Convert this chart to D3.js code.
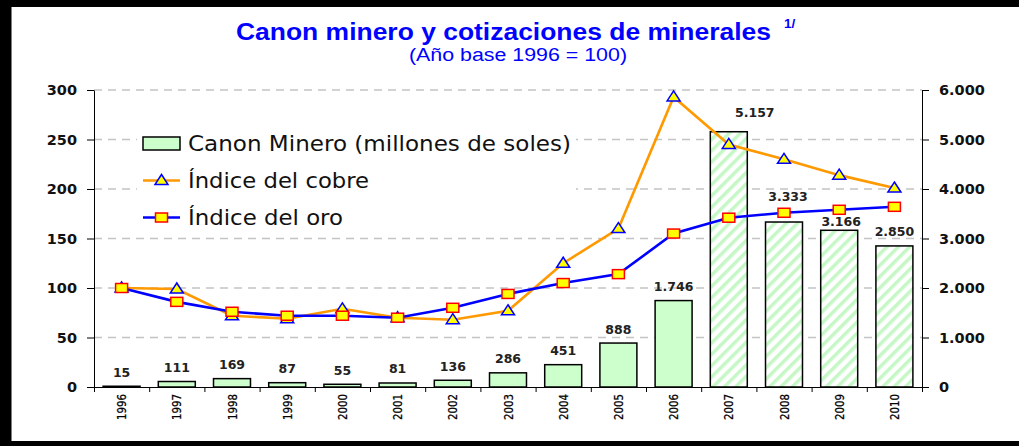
<!DOCTYPE html>
<html>
<head>
<meta charset="utf-8">
<script src="https://cdn.jsdelivr.net/npm/d3@7"></script>
<style>
  html,body{margin:0;padding:0;background:#fff;}
  svg{display:block;}
</style>
</head>
<body>
<div id="chart"></div>
<script>
// Canon minero (barras, eje der.) vs índices cobre/oro (líneas, eje izq.)
const years   = ["1996","1997","1998","1999","2000","2001","2002","2003","2004","2005","2006","2007","2008","2009","2010"];
const canon   = [15, 111, 169, 87, 55, 81, 136, 286, 451, 888, 1746, 5157, 3333, 3166, 2850];
const cobre   = [100, 99, 72, 69, 79, 70, 68, 77, 125, 160, 293, 245, 230, 214, 201];
const oro     = [100, 86, 76, 72, 72, 70, 80, 94, 105, 114, 155, 171, 176, 179, 182];
const hatched = ["2007","2008","2009","2010"];   // años con barra rayada
const leftTicks  = [0, 50, 100, 150, 200, 250, 300];
const rightTicks = [0, 1000, 2000, 3000, 4000, 5000, 6000];

const W = 1019, H = 446, m = {l:94, r:97, t:90, b:59};
const es = d3.formatLocale({decimal:",", thousands:".", grouping:[3], currency:["S/",""]});
const fmt = es.format(",d");

const svg = d3.select("#chart").append("svg").attr("width",W).attr("height",H)
  .style("font-family","'DejaVu Sans', Verdana, sans-serif");

const defs = svg.append("defs");
const pat = defs.append("pattern").attr("id","hatch").attr("patternUnits","userSpaceOnUse")
  .attr("width",8).attr("height",8).attr("patternTransform","rotate(45)");
pat.append("rect").attr("width",8).attr("height",8).attr("fill","#fff");
pat.append("rect").attr("width",3.5).attr("height",8).attr("fill","#c6f7c6");

const x  = d3.scaleBand().domain(years).range([m.l, W-m.r]).paddingInner(0.33).paddingOuter(0.165);
const xs = d3.scaleLinear().domain([0, years.length]).range([m.l, W-m.r]);   // bordes de categoría
const yL = d3.scaleLinear().domain([0,300]).range([H-m.b, m.t]);
const yR = d3.scaleLinear().domain([0,6000]).range([H-m.b, m.t]);
const cx = d => x(d) + x.bandwidth()/2;

// grilla
svg.append("g").selectAll("line").data(leftTicks.slice(1)).join("line")
  .attr("x1",m.l).attr("x2",W-m.r).attr("y1",d=>yL(d)).attr("y2",d=>yL(d))
  .attr("stroke","#c4c4c4").attr("stroke-width",1.3).attr("stroke-dasharray","8,6");

// leyenda (fondo blanco tapa la grilla)
const lg = svg.append("g");
lg.append("rect").attr("x",137).attr("y",125).attr("width",439).attr("height",107).attr("fill","#fff");

// barras
const rows = years.map((y,i)=>({y, v:canon[i], cu:cobre[i], au:oro[i]}));
svg.append("g").selectAll("rect").data(rows).join("rect")
  .attr("x",d=>x(d.y)).attr("width",x.bandwidth())
  .attr("y",d=>yR(d.v)).attr("height",d=>yR(0)-yR(d.v))
  .attr("fill",d=>hatched.includes(d.y) ? "url(#hatch)" : "#ccffcc")
  .attr("stroke","#000").attr("stroke-width",1.5);

// etiquetas de barras (algunas desplazadas a mano como en el original)
const nudge = {"2007":[26,19], "2008":[4,26], "2009":[2,9]};
svg.append("g").selectAll("text").data(rows).join("text")
  .attr("x",d=>cx(d.y) + (nudge[d.y]?nudge[d.y][0]:0))
  .attr("y",d=>yR(d.v) - (nudge[d.y]?nudge[d.y][1]:14))
  .attr("dy","0.36em").attr("text-anchor","middle")
  .attr("font-size",12.5).attr("font-weight","bold").attr("fill","#222")
  .text(d=>fmt(d.v));

// ejes
const axL = svg.append("g").attr("transform",`translate(${m.l},0)`)
  .call(d3.axisLeft(yL).tickValues(leftTicks).tickSize(7).tickSizeOuter(0).tickPadding(10));
const axR = svg.append("g").attr("transform",`translate(${W-m.r},0)`)
  .call(d3.axisRight(yR).tickValues(rightTicks).tickSize(7).tickSizeOuter(0).tickPadding(10).tickFormat(fmt));
[axL, axR].forEach(a=>{
  a.selectAll("text").attr("font-size",14.5).attr("font-weight","bold").attr("fill","#111")
    .style("font-family","'DejaVu Sans', Verdana, sans-serif");
  a.selectAll("line,path").attr("stroke","#000");
});
const axB = svg.append("g").attr("transform",`translate(0,${H-m.b})`)
  .call(d3.axisBottom(xs).tickValues(d3.range(years.length+1)).tickSize(5).tickSizeOuter(0).tickFormat(""));
axB.selectAll("line,path").attr("stroke","#000");
const axY = svg.append("g").attr("transform",`translate(0,${H-m.b})`)
  .call(d3.axisBottom(x).tickSize(0).tickPadding(0));
axY.select(".domain").remove();
axY.selectAll("text")
  .attr("transform","rotate(-90)").attr("x",-7).attr("y",0).attr("dy","0.35em")
  .attr("text-anchor","end").attr("font-size",13).attr("fill","#000")
  .attr("stroke","#000").attr("stroke-width",0.25)
  .attr("textLength",26).attr("lengthAdjust","spacingAndGlyphs")
  .style("font-family","'DejaVu Sans', Verdana, sans-serif");

// líneas
const line = k => d3.line().x(d=>cx(d.y)).y(d=>yL(d[k]));
const tri = "M0,-6L6.5,4L-6.5,4Z";
svg.append("path").datum(rows).attr("d",line("cu")).attr("fill","none").attr("stroke","#ff9900").attr("stroke-width",2.6);
svg.append("g").selectAll("path").data(rows).join("path")
  .attr("transform",d=>`translate(${cx(d.y)},${yL(d.cu)})`).attr("d",tri)
  .attr("fill","#ffff00").attr("stroke","#0000ff").attr("stroke-width",1.5);
svg.append("path").datum(rows).attr("d",line("au")).attr("fill","none").attr("stroke","#0000ff").attr("stroke-width",2.6);
svg.append("g").selectAll("rect").data(rows).join("rect")
  .attr("x",d=>cx(d.y)-6).attr("y",d=>yL(d.au)-4.5).attr("width",12).attr("height",9)
  .attr("fill","#ffff00").attr("stroke","#ff0000").attr("stroke-width",1.5);

// leyenda
const lgRows = [
  {label:"Canon Minero (millones de soles)", len:383, type:"bar"},
  {label:"Índice del cobre", len:181, type:"cu"},
  {label:"Índice del oro", len:155, type:"au"}
];
lgRows.forEach((r,i)=>{
  const yy = 143.5 + i*37;
  if(r.type==="bar"){
    lg.append("rect").attr("x",143).attr("y",yy-6.5).attr("width",37).attr("height",13)
      .attr("fill","#ccffcc").attr("stroke","#000").attr("stroke-width",1.5);
  } else {
    lg.append("line").attr("x1",143).attr("x2",180).attr("y1",yy).attr("y2",yy)
      .attr("stroke", r.type==="cu" ? "#ff9900" : "#0000ff").attr("stroke-width",2.6);
    if(r.type==="cu") lg.append("path").attr("transform",`translate(161.5,${yy})`).attr("d",tri)
      .attr("fill","#ffff00").attr("stroke","#0000ff").attr("stroke-width",1.5);
    else lg.append("rect").attr("x",155.5).attr("y",yy-4.5).attr("width",12).attr("height",9)
      .attr("fill","#ffff00").attr("stroke","#ff0000").attr("stroke-width",1.5);
  }
  lg.append("text").attr("x",188).attr("y",yy+7.5).attr("font-size",20.5).attr("fill","#111")
    .attr("textLength",r.len).attr("lengthAdjust","spacingAndGlyphs").text(r.label);
});

// títulos
const t = svg.append("g").attr("fill","#0000ff").style("font-family","'Liberation Sans', Arial, sans-serif");
t.append("text").attr("x",236).attr("y",40).attr("font-size",23.5).attr("font-weight","bold")
  .attr("textLength",535).attr("lengthAdjust","spacingAndGlyphs")
  .text("Canon minero y cotizaciones de minerales");
t.append("text").attr("x",784).attr("y",28).attr("font-size",13.5).attr("font-weight","bold").text("1/");
t.append("text").attr("x",518).attr("y",61).attr("text-anchor","middle").attr("font-size",18)
  .attr("textLength",218).attr("lengthAdjust","spacingAndGlyphs").text("(Año base 1996 = 100)");

// marco negro del recorte original
svg.append("rect").attr("x",0).attr("y",0).attr("width",W).attr("height",7).attr("fill","#000");
svg.append("rect").attr("x",0).attr("y",0).attr("width",11.5).attr("height",H).attr("fill","#000");
svg.append("rect").attr("x",0).attr("y",441).attr("width",W).attr("height",5).attr("fill","#000");
</script>
</body>
</html>
